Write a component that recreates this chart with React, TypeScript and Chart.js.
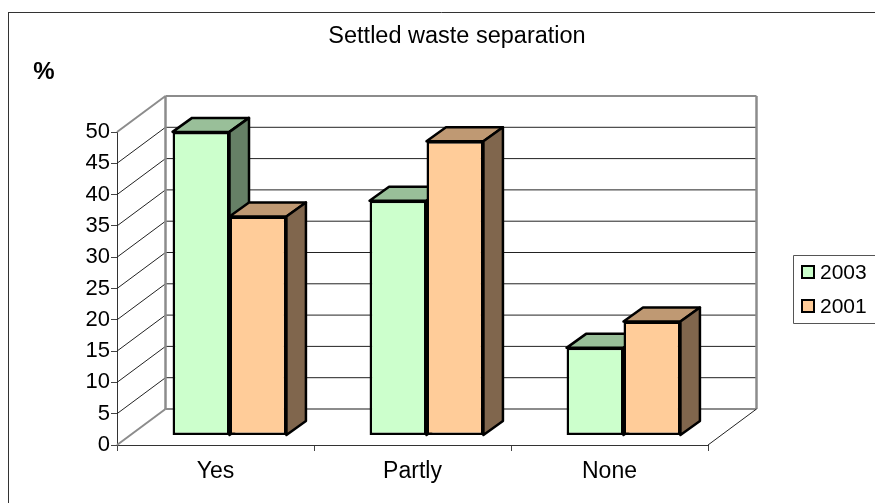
import React, { useEffect, useRef } from "react";
import { Chart, registerables } from "chart.js";

Chart.register(...registerables);

const chartTitle = "Settled waste separation";
const unitLabel = "%";
const categories = ["Yes", "Partly", "None"];
const seriesNames = ["2003", "2001"];
const values2003 = [48.5, 37.5, 14];
const values2001 = [35, 47, 18.2];

const FONT = '"Liberation Sans", Arial, sans-serif';
const WALL_DX = 48.5;
const WALL_DY = 36;
const BAR_DX = 14;
const BAR_DY = -9.5;
const DEPTH_DX = 19.5;
const DEPTH_DY = 14;
const BAR_LINE = 2.5;

const faces = [
  { front: "#CCFFCC", top: "#99BF99", side: "#668066" },
  { front: "#FFCC99", top: "#BF9973", side: "#80664D" },
];

function poly(ctx: CanvasRenderingContext2D, pts: number[][], fill: string) {
  ctx.beginPath();
  pts.forEach((p, i) => (i ? ctx.lineTo(p[0], p[1]) : ctx.moveTo(p[0], p[1])));
  ctx.closePath();
  ctx.fillStyle = fill;
  ctx.fill();
  ctx.stroke();
}

function line(ctx: CanvasRenderingContext2D, x0: number, y0: number, x1: number, y1: number, color: string, w: number) {
  ctx.beginPath();
  ctx.moveTo(x0, y0);
  ctx.lineTo(x1, y1);
  ctx.strokeStyle = color;
  ctx.lineWidth = w;
  ctx.stroke();
}

const box3d = {
  id: "box3d",
  beforeDatasetsDraw(chart: any) {
    const { ctx, chartArea: a, scales } = chart;
    ctx.save();
    scales.y.getTicks().forEach((t: any) => {
      const y = scales.y.getPixelForValue(t.value);
      if (t.value > 0 && t.value < 50) {
        line(ctx, a.left, y, a.left + WALL_DX, y - WALL_DY, "#222", 1);
        line(ctx, a.left + WALL_DX, y - WALL_DY, a.right + WALL_DX, y - WALL_DY, "#222", 1);
      }
    });
    const g = "#8C8C8C";
    line(ctx, a.left, a.top, a.left + WALL_DX, a.top - WALL_DY, g, 2);
    line(ctx, a.left, a.bottom, a.left + WALL_DX, a.bottom - WALL_DY, g, 2);
    line(ctx, a.left + WALL_DX, a.top - WALL_DY, a.right + WALL_DX, a.top - WALL_DY, g, 2);
    line(ctx, a.left + WALL_DX, a.bottom - WALL_DY, a.right + WALL_DX, a.bottom - WALL_DY, g, 2);
    line(ctx, a.left + WALL_DX, a.top - WALL_DY, a.left + WALL_DX, a.bottom - WALL_DY, g, 2.5);
    line(ctx, a.right + WALL_DX, a.top - WALL_DY, a.right + WALL_DX, a.bottom - WALL_DY, g, 2.5);
    line(ctx, a.right, a.bottom, a.right + WALL_DX, a.bottom - WALL_DY, "#222", 1);

    // Top and side faces: the first series first, so the second one covers it.
    ctx.translate(BAR_DX, BAR_DY);
    ctx.strokeStyle = "#000";
    ctx.lineWidth = BAR_LINE;
    ctx.lineJoin = "round";
    [0, 1].forEach((index) => {
      const f = faces[index];
      chart.getDatasetMeta(index).data.forEach((el: any) => {
        const l = el.x - el.width / 2;
        const r = el.x + el.width / 2;
        poly(ctx, [[l, el.y], [r, el.y], [r + DEPTH_DX, el.y - DEPTH_DY], [l + DEPTH_DX, el.y - DEPTH_DY]], f.top);
        poly(ctx, [[r, el.y], [r + DEPTH_DX, el.y - DEPTH_DY], [r + DEPTH_DX, el.base - DEPTH_DY], [r, el.base]], f.side);
      });
    });
    ctx.restore();
  },
  beforeDatasetDraw(chart: any) {
    chart.ctx.save();
    chart.ctx.translate(BAR_DX, BAR_DY);
  },
  afterDatasetDraw(chart: any) {
    chart.ctx.restore();
  },
  afterDraw(chart: any) {
    const { ctx, width, height } = chart;
    ctx.save();
    line(ctx, 8.5, 12.5, 8.5, height, "#333", 1);
    line(ctx, 8, 12.5, width, 12.5, "#333", 1);

    ctx.fillStyle = "#000";
    ctx.textBaseline = "middle";
    ctx.textAlign = "center";
    ctx.font = `23.5px ${FONT}`;
    ctx.fillText(chartTitle, 457, 37);
    ctx.font = `bold 24px ${FONT}`;
    ctx.fillText(unitLabel, 44, 72);

    // legend
    ctx.strokeStyle = "#555";
    ctx.lineWidth = 1;
    ctx.beginPath();
    ctx.moveTo(width, 255.5);
    ctx.lineTo(793.5, 255.5);
    ctx.lineTo(793.5, 323.5);
    ctx.lineTo(width, 323.5);
    ctx.stroke();
    ctx.textAlign = "left";
    ctx.font = `21px ${FONT}`;
    chart.data.datasets.forEach((d: any, i: number) => {
      const y = 265 + i * 34;
      ctx.fillStyle = d.backgroundColor;
      ctx.strokeStyle = "#000";
      ctx.lineWidth = 2;
      ctx.fillRect(802, y + 1, 12, 12);
      ctx.strokeRect(802, y + 1, 12, 12);
      ctx.fillStyle = "#000";
      ctx.fillText(d.label, 820, y + 8);
    });
    ctx.restore();
  },
};

export default function App() {
  const ref = useRef<HTMLCanvasElement>(null);
  useEffect(() => {
    const chart = new Chart(ref.current!, {
      type: "bar",
      data: {
        labels: categories,
        datasets: [
          { label: seriesNames[0], data: values2003, backgroundColor: faces[0].front },
          { label: seriesNames[1], data: values2001, backgroundColor: faces[1].front },
        ].map((d) => ({
          ...d,
          borderColor: "#000",
          borderWidth: BAR_LINE,
          borderSkipped: false,
          categoryPercentage: 0.578,
          barPercentage: 1,
          clip: false,
        })),
      },
      options: {
        responsive: false,
        animation: false,
        layout: { padding: { left: 77, top: 132, right: 167, bottom: 18 } },
        plugins: { legend: { display: false }, title: { display: false }, tooltip: { enabled: false } },
        scales: {
          x: {
            afterFit: (s: any) => { s.height = 40; },
            grid: { drawOnChartArea: false, drawTicks: true, tickLength: 6, color: "#444", offset: true },
            border: { color: "#333", width: 1 },
            ticks: { color: "#000", font: { family: FONT, size: 23 }, padding: 7, maxRotation: 0 },
          },
          y: {
            min: 0,
            max: 50,
            afterFit: (s: any) => { s.width = 40; },
            grid: { drawOnChartArea: false, drawTicks: true, tickLength: 6, color: "#444" },
            border: { color: "#333", width: 1 },
            ticks: { stepSize: 5, color: "#000", font: { family: FONT, size: 22 }, padding: 1 },
          },
        },
      },
      plugins: [box3d],
    } as any);
    return () => chart.destroy();
  }, []);
  return (
    <div style={{ position: "absolute", left: 0, top: 0, width: 875, height: 503, background: "#fff" }}>
      <canvas ref={ref} width={875} height={503} style={{ display: "block" }} />
    </div>
  );
}
